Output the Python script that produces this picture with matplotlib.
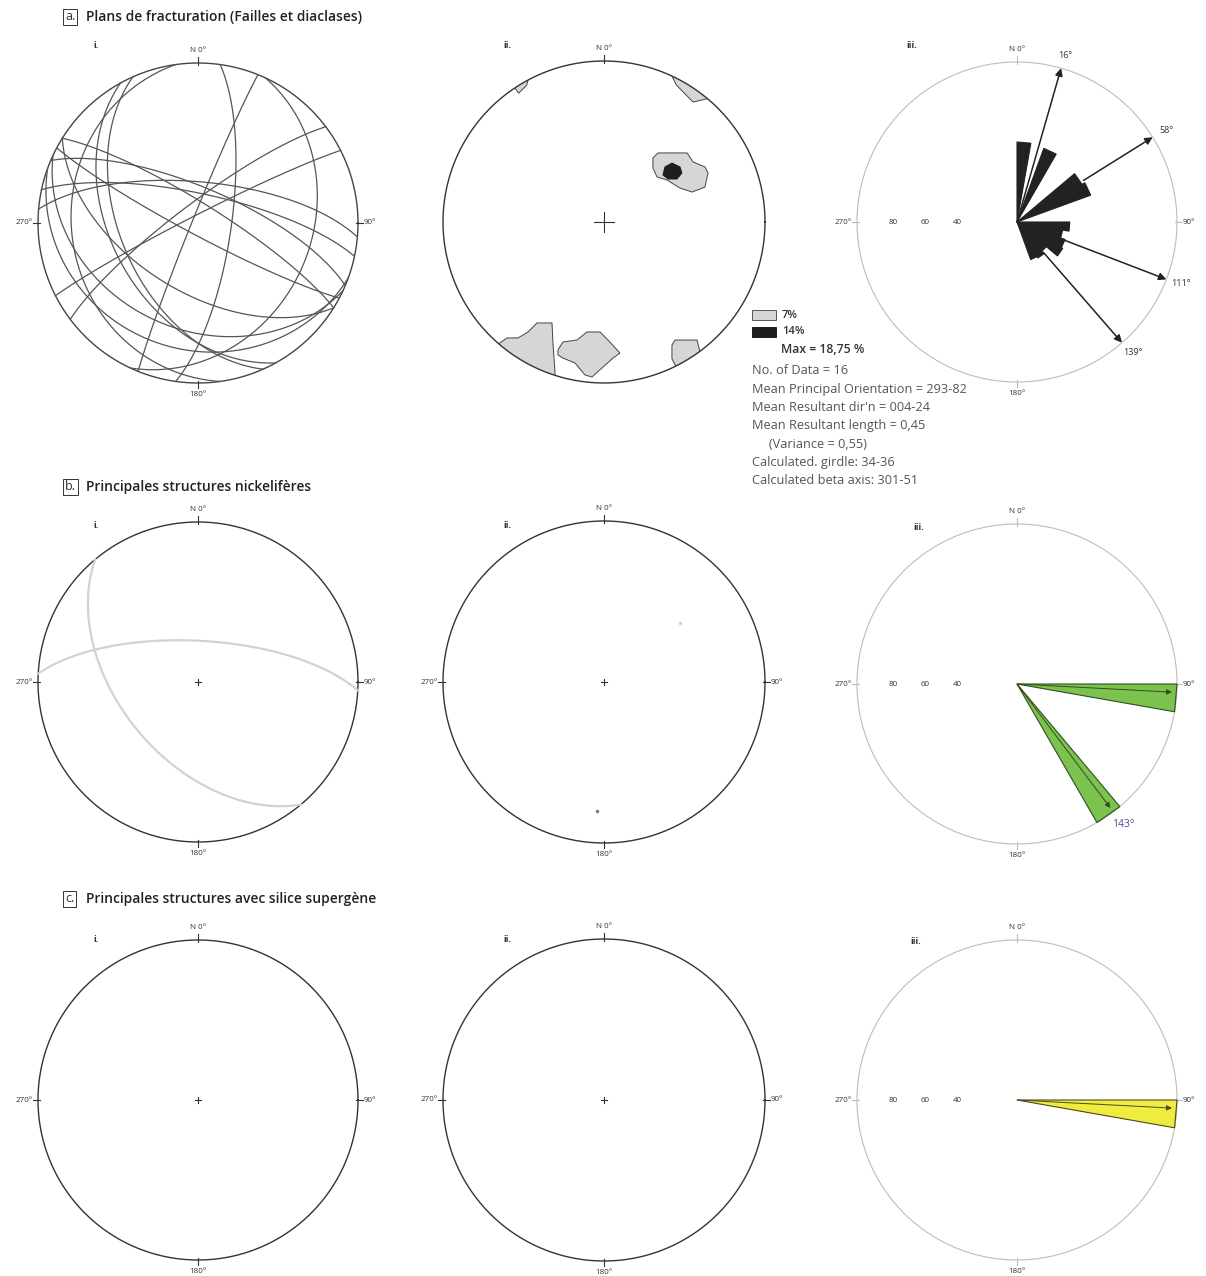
import numpy as np
import matplotlib.pyplot as plt

plt.rcParams['font.family'] = ['Open Sans', 'DejaVu Sans']

W, H = 1206, 1276

# ---- data ----
# a.i : fracture planes (dip direction, dip) - 16 data
gc_a_dipdir = [98, 292, 323, 333, 5, 12, 241, 246, 262, 115, 32, 208, 23, 205, 212, 200]
gc_a_dip = [73, 87, 80, 86, 69, 75, 45, 50, 22, 30, 80, 84, 72, 34, 55, 22]

# b.i : nickel bearing structures
gc_b_dipdir = [3, 230]
gc_b_dip = [69, 50]

# a.ii : density contours (x, y in net units)
cont_7 = [
    [(0.304, 0.398), (0.335, 0.429), (0.516, 0.429), (0.553, 0.373), (0.627, 0.342),
     (0.646, 0.304), (0.627, 0.217), (0.547, 0.186), (0.472, 0.211), (0.391, 0.261),
     (0.329, 0.280), (0.304, 0.335)],
    [(-0.66, -0.76), (-0.602, -0.720), (-0.534, -0.720), (-0.472, -0.683), (-0.416, -0.627),
     (-0.323, -0.627), (-0.317, -0.752), (-0.304, -0.94), (-0.30, -1.05), (-0.70, -0.80)],
    [(-0.286, -0.795), (-0.255, -0.745), (-0.168, -0.733), (-0.106, -0.683), (-0.025, -0.683),
     (0.025, -0.733), (0.099, -0.814), (0.056, -0.845), (-0.075, -0.963), (-0.118, -0.950),
     (-0.180, -0.876), (-0.255, -0.845), (-0.286, -0.826)],
    [(0.422, -0.764), (0.441, -0.733), (0.578, -0.733), (0.596, -0.807), (0.64, -0.84),
     (0.48, -0.96), (0.422, -0.85)],
    [(0.41, 0.93), (0.66, 0.77), (0.553, 0.745), (0.45, 0.85)],
    [(-0.56, 0.84), (-0.47, 0.89), (-0.48, 0.85), (-0.53, 0.80)],
]
cont_14 = [
    [(0.379, 0.342), (0.422, 0.366), (0.472, 0.342), (0.484, 0.304), (0.453, 0.267),
     (0.398, 0.267), (0.366, 0.292)],
]

# b.ii points
pts_b = [(0.472, 0.366), (-0.043, -0.801)]
pts_b_col = ['#d0d0d0', '#777777']

# rose diagrams: bin start (deg), 10 deg wide, length in % of the circle
rose_a_bins = [0, 20, 50, 60, 90, 100, 110, 120, 130, 140, 150]
rose_a_vals = [50, 49, 47, 49, 33, 29, 32, 33, 24, 26, 25]
rose_a_means = [16, 58, 111, 139]
rose_a_start = [0, 49, 30, 25]

rose_b_bins = [90, 140]
rose_b_vals = [100, 100]
rose_b_means = [93, 143]

rose_c_bins = [90]
rose_c_vals = [100]
rose_c_means = [93]

scale_vals = [80, 60, 40]

stats = ["No. of Data = 16",
         "Mean Principal Orientation = 293-82",
         "Mean Resultant dir'n = 004-24",
         "Mean Resultant length = 0,45",
         "     (Variance = 0,55)",
         "Calculated. girdle: 34-36",
         "Calculated beta axis: 301-51"]

fig = plt.figure(figsize=(W / 100, H / 100), dpi=100)
fig.patch.set_facecolor('white')

TXT = '#333333'


def net_axes(cx, cy, r=160):
    pad = 1.12
    ax = fig.add_axes([(cx - pad * r) / W, 1 - (cy + pad * r) / H,
                       2 * pad * r / W, 2 * pad * r / H])
    ax.set_xlim(-pad, pad)
    ax.set_ylim(-pad, pad)
    ax.set_aspect('equal')
    ax.axis('off')
    return ax


def great_circle(dd, dip, n=200):
    t = np.radians(np.linspace(0, 180, n))
    s = np.radians(dd - 90)
    a = np.radians(dd)
    d = np.radians(dip)
    sv = np.array([np.sin(s), np.cos(s), 0.0])
    dv = np.array([np.sin(a) * np.cos(d), np.cos(a) * np.cos(d), np.sin(d)])
    v = np.outer(np.cos(t), sv) + np.outer(np.sin(t), dv)
    trend = np.arctan2(v[:, 0], v[:, 1])
    plunge = np.arcsin(np.clip(v[:, 2], -1, 1))
    rho = np.sqrt(2) * np.sin((np.pi / 2 - plunge) / 2)
    return rho * np.sin(trend), rho * np.cos(trend)


def primitive(ax, color='#333333', lw=1.0):
    th = np.linspace(0, 2 * np.pi, 400)
    ax.plot(np.cos(th), np.sin(th), color=color, lw=lw)
    circ = plt.Circle((0, 0), 1, transform=ax.transData)
    return circ


def labels(ax, which=('N', 'E', 'S', 'W'), tick_col='#333333'):
    fs = 5.8
    if 'N' in which:
        ax.text(0, 1.055, 'N 0°', ha='center', va='bottom', fontsize=fs, color=TXT)
        ax.plot([0, 0], [0.985, 1.035], color=tick_col, lw=0.8)
    if 'E' in which:
        ax.text(1.035, 0, '90°', ha='left', va='center', fontsize=fs, color=TXT)
        ax.plot([0.985, 1.03], [0, 0], color=tick_col, lw=0.8)
    if 'W' in which:
        ax.text(-1.03, 0, '270°', ha='right', va='center', fontsize=fs, color=TXT)
        ax.plot([-1.03, -0.985], [0, 0], color=tick_col, lw=0.8)
    if 'S' in which:
        ax.text(0, -1.05, '180°', ha='center', va='top', fontsize=fs, color=TXT)
        ax.plot([0, 0], [-1.03, -0.985], color=tick_col, lw=0.8)


def center_cross(ax, size=0.02, lw=0.8):
    ax.plot([-size, size], [0, 0], color='#333333', lw=lw)
    ax.plot([0, 0], [-size, size], color='#333333', lw=lw)


def rose(ax, bins, vals, face, edge, lw=0.8):
    for b, v in zip(bins, vals):
        r = v / 100.0
        a1, a2 = np.radians(b), np.radians(b + 10)
        ax.fill([0, r * np.sin(a1), r * np.sin(a2)], [0, r * np.cos(a1), r * np.cos(a2)],
                facecolor=face, edgecolor=edge, lw=lw, zorder=3)
    for v in scale_vals:
        ax.text(-v / 100.0, 0, str(v), ha='left', va='center', fontsize=5.8, color=TXT)


def arrow(ax, az, r0, r1, color='k', lw=1.0, ms=10):
    a = np.radians(az)
    ax.annotate('', xy=(r1 * np.sin(a), r1 * np.cos(a)),
                xytext=(r0 * np.sin(a), r0 * np.cos(a)),
                arrowprops=dict(arrowstyle='-|>', color=color, lw=lw,
                                mutation_scale=ms, shrinkA=0, shrinkB=0),
                zorder=4)


def header(y, letter, title):
    fig.text(65 / W, 1 - y / H, letter, fontsize=9, color=TXT, va='center', ha='left',
             bbox=dict(boxstyle='square,pad=0.15', facecolor='white', edgecolor='#333333', lw=0.7))
    fig.text(86 / W, 1 - y / H, title, fontsize=10, color='#222222', va='center', ha='left',
             fontweight='semibold')


def sublabel(x, y, s):
    fig.text(x / W, 1 - y / H, s, fontsize=6.5, color=TXT, ha='left', va='center',
             fontweight='bold')


header(17, 'a.', 'Plans de fracturation (Failles et diaclases)')
header(487, 'b.', 'Principales structures nickelifères')
header(899, 'c.', 'Principales structures avec silice supergène')

for x, y, s in [(93, 45, 'i.'), (503, 45, 'ii.'), (906, 45, 'iii.'),
                (93, 526, 'i.'), (503, 526, 'ii.'), (913, 528, 'iii.'),
                (93, 940, 'i.'), (503, 940, 'ii.'), (910, 941, 'iii.')]:
    sublabel(x, y, s)

# ---- row a ----
ax = net_axes(198, 223)
circ = primitive(ax, color='#444444', lw=1.0)
for dd, dp in zip(gc_a_dipdir, gc_a_dip):
    x, y = great_circle(dd, dp)
    ax.plot(x, y, color='#555555', lw=0.9)
labels(ax)

ax = net_axes(604, 222, 161)
circ = primitive(ax)
for poly in cont_7:
    p = plt.Polygon(poly, closed=True, facecolor='#d6d6d6', edgecolor='#444444', lw=0.7)
    ax.add_patch(p)
    p.set_clip_path(circ)
for poly in cont_14:
    p = plt.Polygon(poly, closed=True, facecolor='#1e1e1e', edgecolor='#1e1e1e', lw=0.7)
    ax.add_patch(p)
center_cross(ax, size=0.065, lw=0.8)
labels(ax, which=('N',))

ax = net_axes(1017, 222)
primitive(ax, color='#bdbdbd', lw=0.8)
rose(ax, rose_a_bins, rose_a_vals, '#222222', '#222222')
for m, r0 in zip(rose_a_means, rose_a_start):
    arrow(ax, m, r0 / 100.0, 1.0, color='#222222', lw=1.1, ms=11)
    a = np.radians(m)
    ax.text(1.1 * np.sin(a), 1.08 * np.cos(a), f'{m}°', ha='center', va='center',
            fontsize=6.5, color=TXT)
labels(ax, tick_col='#bdbdbd')

# legend and statistics
fig.patches.append(plt.Rectangle((752 / W, 1 - 320 / H), 24 / W, 10 / H, transform=fig.transFigure,
                                 facecolor='#d6d6d6', edgecolor='#555555', lw=0.7))
fig.patches.append(plt.Rectangle((752 / W, 1 - 337 / H), 24 / W, 10 / H, transform=fig.transFigure,
                                 facecolor='#1e1e1e', edgecolor='#1e1e1e', lw=0.7))
fig.text(782 / W, 1 - 315 / H, '7%', fontsize=8, color=TXT, va='center', fontweight='semibold')
fig.text(782 / W, 1 - 332 / H, '14%', fontsize=8, color=TXT, va='center', fontweight='semibold')
fig.text(781 / W, 1 - 350 / H, 'Max = 18,75 %', fontsize=8.8, color=TXT, va='center',
         fontweight='semibold')
for i, s in enumerate(stats):
    fig.text(752 / W, 1 - (371 + i * 18.3) / H, s, fontsize=9.2, color='#555555', va='center')

# ---- row b ----
ax = net_axes(198, 682)
primitive(ax)
for dd, dp in zip(gc_b_dipdir, gc_b_dip):
    x, y = great_circle(dd, dp)
    ax.plot(x, y, color='#d2d2d2', lw=1.6)
center_cross(ax)
labels(ax)

ax = net_axes(604, 682, 161)
primitive(ax)
for (px, py), c in zip(pts_b, pts_b_col):
    ax.plot(px, py, 'o', ms=2.5, color=c, mec='none')
center_cross(ax)
labels(ax)

ax = net_axes(1017, 684)
primitive(ax, color='#bdbdbd', lw=0.8)
rose(ax, rose_b_bins, rose_b_vals, '#7cc24e', '#2f4f1f')
for m in rose_b_means:
    arrow(ax, m, 0.0, 0.97, color='#2f4f1f', lw=0.7, ms=8)
ax.text(1.1 * np.sin(np.radians(143)), 1.1 * np.cos(np.radians(143)), '143°',
        ha='center', va='center', fontsize=7.5, color='#5b4a8f')
labels(ax, tick_col='#bdbdbd')

# ---- row c ----
ax = net_axes(198, 1100)
primitive(ax)
center_cross(ax)
labels(ax)

ax = net_axes(604, 1100, 161)
primitive(ax)
center_cross(ax)
labels(ax)

ax = net_axes(1017, 1100)
primitive(ax, color='#bdbdbd', lw=0.8)
rose(ax, rose_c_bins, rose_c_vals, '#efec3f', '#4a4a20')
for m in rose_c_means:
    arrow(ax, m, 0.0, 0.97, color='#4a4a20', lw=0.7, ms=8)
labels(ax, tick_col='#bdbdbd')

fig.savefig('out.png', dpi=100, facecolor='white')
